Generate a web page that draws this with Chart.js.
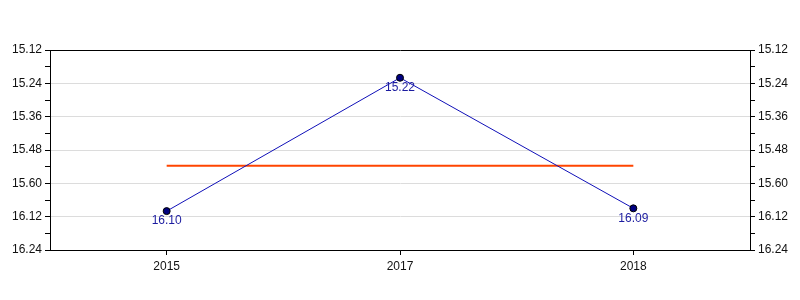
<!DOCTYPE html>
<html>
<head>
<meta charset="utf-8">
<script src="https://cdn.jsdelivr.net/npm/chart.js@4/dist/chart.umd.min.js"></script>
<style>
  body { margin: 0; background: #fff; }
</style>
</head>
<body>
<canvas id="grafico" width="800" height="300"></canvas>
<script>
// años y tiempos (min.seg)
const anios = ['2015', '2017', '2018'];
const tiempos = ['16.10', '15.22', '16.09'];
// etiquetas del eje y (asi vienen en el original)
const etiquetasY = ['15.12', '15.24', '15.36', '15.48', '15.60', '16.12', '16.24'];
const ejeMin = 912;   // 15:12 en segundos
const ejeMax = 984;   // 16:24 en segundos
const paso = 12;

// paso "min.seg" a segundos
function aSegundos(txt) {
    const partes = txt.split('.');
    return Number(partes[0]) * 60 + Number(partes[1]);
}

const segundos = tiempos.map(aSegundos);
const promedio = segundos.reduce((a, b) => a + b, 0) / segundos.length;
const lineaPromedio = anios.map(() => promedio);

const fuente = { family: 'Liberation Sans', size: 12 };

function esMayor(v) {
    return (v - ejeMin) % paso === 0;
}

function ejeY(posicion) {
    return {
        type: 'linear',
        position: posicion,
        reverse: true,
        min: ejeMin,
        max: ejeMax,
        afterFit: (s) => { s.width = 50; },
        ticks: {
            stepSize: paso / 2,
            autoSkip: false,
            color: '#111',
            font: fuente,
            padding: 3,
            callback: (v) => esMayor(v) ? etiquetasY[(v - ejeMin) / paso] : ''
        },
        grid: {
            drawOnChartArea: posicion === 'left',
            tickLength: 5,
            tickColor: '#000',
            color: (c) => {
                const v = c.tick.value;
                if (v === ejeMin || v === ejeMax) return '#000';
                return esMayor(v) ? '#dcdcdc' : 'rgba(0,0,0,0)';
            }
        },
        border: { color: '#000', width: 1 }
    };
}

// etiquetas debajo de cada punto
const etiquetasPuntos = {
    id: 'etiquetasPuntos',
    afterDatasetsDraw(chart) {
        const ctx = chart.ctx;
        const meta = chart.getDatasetMeta(0);
        ctx.save();
        ctx.font = '12px "Liberation Sans"';
        ctx.fillStyle = '#1c1ca0';
        ctx.textAlign = 'center';
        ctx.textBaseline = 'top';
        meta.data.forEach((p, i) => {
            ctx.fillText(tiempos[i], p.x, p.y + 4);
        });
        ctx.restore();
    }
};

new Chart(document.getElementById('grafico'), {
    type: 'line',
    data: {
        labels: anios,
        datasets: [
            {
                data: segundos,
                borderColor: '#1010b8',
                borderWidth: 1,
                pointRadius: 3.5,
                pointBackgroundColor: '#000080',
                pointBorderColor: '#000',
                pointBorderWidth: 1,
                tension: 0
            },
            {
                data: lineaPromedio,
                borderColor: '#ff4500',
                borderWidth: 2,
                pointRadius: 0
            }
        ]
    },
    options: {
        responsive: false,
        devicePixelRatio: 1,
        animation: false,
        layout: { padding: { top: 50, left: 0, right: 0, bottom: 0 } },
        plugins: {
            legend: { display: false },
            tooltip: { enabled: false }
        },
        scales: {
            x: {
                type: 'category',
                offset: true,
                afterFit: (s) => { s.height = 50; },
                ticks: { color: '#111', font: fuente, padding: 4 },
                grid: { drawOnChartArea: false, tickLength: 5, tickColor: '#000' },
                border: { color: '#000', width: 1 }
            },
            y: ejeY('left'),
            y2: ejeY('right')
        }
    },
    plugins: [etiquetasPuntos]
});
</script>
</body>
</html>
